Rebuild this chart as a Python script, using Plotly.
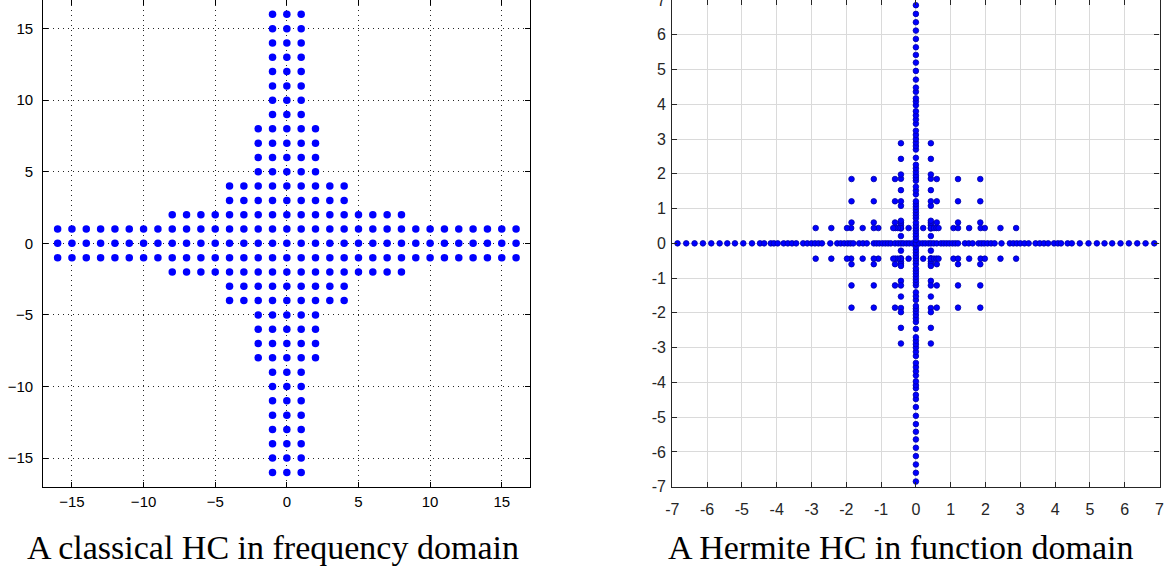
import plotly.graph_objects as go

# ---------------- Left panel: classical hyperbolic cross (frequency domain) ----------------
# For |k2| in the band (previous limit, limit], |k1| runs up to the given extent
hc_k2_limit = [1, 2, 4, 8, 16]
hc_k1_extent = [16, 8, 4, 2, 1]
left_tickvals = [-15, -10, -5, 0, 5, 10, 15]

# ---------------- Right panel: Hermite HC (function domain) ----------------
# positive node positions seen along each axis (picture is symmetric)
axis_nodes_pos = [0.10, 0.19, 0.27, 0.36, 0.43, 0.51, 0.60, 0.72, 0.80, 0.88, 0.96,
                  1.05, 1.13, 1.21, 1.41, 1.52, 1.63, 1.80, 1.88, 1.96, 2.06, 2.16,
                  2.26, 2.46, 2.70, 2.80, 2.90, 3.00, 3.12, 3.24, 3.44, 3.56, 3.68,
                  3.80, 3.97, 4.08, 4.17, 4.36, 4.48, 4.71, 4.96, 5.20, 5.42, 5.64,
                  5.88, 6.12, 6.36, 6.60, 6.85]
# off-axis nodes (first quadrant, mirrored to the other quadrants)
strip_nodes = [0.21, 0.43, 0.52, 0.59, 0.65, 1.08, 1.21, 1.53, 1.86, 1.98, 2.43, 2.88]
strip_col_x = 0.43   # vertical strip at x = +-0.43
strip_row_y = 0.44   # horizontal strip at y = +-0.44
block_nodes = [0.60, 1.21, 1.85]
right_tickvals = [-7, -6, -5, -4, -3, -2, -1, 0, 1, 2, 3, 4, 5, 6, 7]
right_ticktext = ["-7", "-6", "-5", "-4", "-3", "-2", "-1", "0",
                  "1", "2", "3", "4", "5", "6", "7"]

title_left = "A classical HC in frequency domain"
title_right = "A Hermite HC in function domain"

# ---- build left lattice ----
lx, ly = [], []
prev = -1
for lim, ext in zip(hc_k2_limit, hc_k1_extent):
    for k2 in range(-lim, lim + 1):
        if abs(k2) <= prev:
            continue
        for k1 in range(-ext, ext + 1):
            lx.append(k1)
            ly.append(k2)
    prev = lim

# ---- build right point set ----
axis_vals = [-v for v in reversed(axis_nodes_pos)] + [0.0] + axis_nodes_pos
pts = []
for v in axis_vals:
    pts.append((v, 0.0))
    pts.append((0.0, v))
q1 = [(strip_col_x, t) for t in strip_nodes] + [(t, strip_row_y) for t in strip_nodes] \
    + [(a, b) for a in block_nodes for b in block_nodes]
for (a, b) in q1:
    for sx in (1, -1):
        for sy in (1, -1):
            pts.append((sx * a, sy * b))
rx = [p[0] for p in pts]
ry = [p[1] for p in pts]

fig = go.Figure()
fig.add_trace(go.Scatter(x=lx, y=ly, mode="markers", xaxis="x", yaxis="y",
                         marker=dict(size=7.5, color="#0000ff", line=dict(width=0)),
                         showlegend=False, hoverinfo="skip"))
fig.add_trace(go.Scatter(x=rx, y=ry, mode="markers", xaxis="x2", yaxis="y2",
                         marker=dict(size=5.6, color="#0000ff",
                                     line=dict(color="#0000a8", width=0.8)),
                         showlegend=False, hoverinfo="skip"))

H = 567.0
W = 1172.0
ybot = (H - 486.7) / H

left_axis = dict(range=[-17, 17], tickvals=left_tickvals, ticks="inside", ticklen=5,
                 tickcolor="black", tickwidth=1, showline=True, linecolor="black",
                 linewidth=1.2, mirror="ticks", showgrid=True, gridcolor="rgba(0,0,0,0.85)",
                 gridwidth=1, griddash="1px,4px", zeroline=False, automargin=False,
                 tickfont=dict(family="Liberation Sans, Arial", size=15, color="black"),
                 fixedrange=True)
right_axis = dict(range=[-7, 7], tickvals=right_tickvals, ticktext=right_ticktext,
                  ticks="inside", ticklen=5, tickcolor="#262626", tickwidth=1,
                  showline=True, linecolor="#262626", linewidth=1.3, mirror="ticks",
                  showgrid=True, gridcolor="#dadada", gridwidth=1, zeroline=False,
                  automargin=False, ticklabeloverflow="allow",
                  tickfont=dict(family="Liberation Sans, Arial", size=16, color="#262626"),
                  fixedrange=True)

title_font = dict(family="Liberation Serif, Times New Roman, serif", size=34, color="black")

fig.update_layout(
    width=1172, height=567,
    margin=dict(l=0, r=0, t=0, b=0),
    paper_bgcolor="white", plot_bgcolor="white",
    showlegend=False,
    xaxis=dict(left_axis, domain=[43.3 / W, 530.4 / W], anchor="y", ticklabelstandoff=1),
    yaxis=dict(left_axis, domain=[ybot, 1.0], anchor="x", ticklabelstandoff=6),
    xaxis2=dict(right_axis, domain=[672.3 / W, 1159.5 / W], anchor="y2", ticklabelstandoff=8),
    yaxis2=dict(right_axis, domain=[ybot, 1.0], anchor="x2", ticklabelstandoff=2),
    annotations=[
        dict(text=title_left, x=273 / W, y=(H - 547) / H, xref="paper", yref="paper",
             xanchor="center", yanchor="middle", showarrow=False, font=title_font),
        dict(text=title_right, x=901 / W, y=(H - 547) / H, xref="paper", yref="paper",
             xanchor="center", yanchor="middle", showarrow=False, font=title_font),
    ],
)

fig.write_html("out.html", config={"displayModeBar": False},
               post_script="document.body.style.margin='0';")
